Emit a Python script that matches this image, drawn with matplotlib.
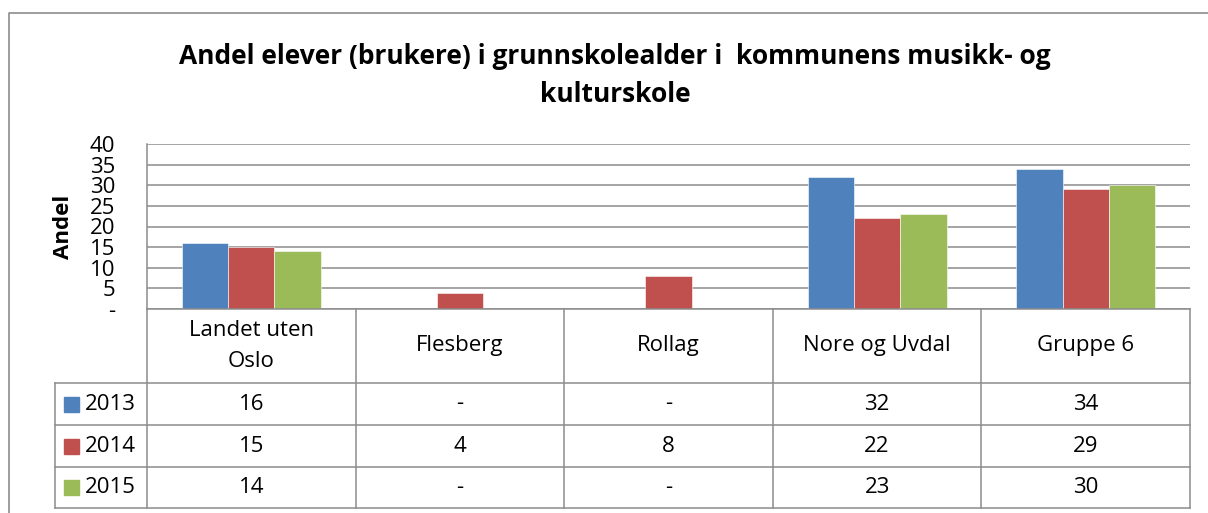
import matplotlib
matplotlib.use("Agg")
import numpy as np
import matplotlib.pyplot as plt
from matplotlib.patches import Rectangle

plt.rcParams["font.family"] = ["Open Sans", "DejaVu Sans"]

categories = ["Landet uten\nOslo", "Flesberg", "Rollag", "Nore og Uvdal", "Gruppe 6"]
years = ["2013", "2014", "2015"]
values_2013 = [16, None, None, 32, 34]
values_2014 = [15, 4, 8, 22, 29]
values_2015 = [14, None, None, 23, 30]
yticks = [0, 5, 10, 15, 20, 25, 30, 35, 40]
yticklabels = ["-", "5", "10", "15", "20", "25", "30", "35", "40"]

colors = ["#4F81BD", "#C0504D", "#9BBB59"]
series = [values_2013, values_2014, values_2015]
grid_col = "#8c8c8c"
fs = 16

W, H = 1208, 513
fig = plt.figure(figsize=(W / 100, H / 100), dpi=100)

# plot area in pixel terms
px_l, px_r, px_t, px_b = 147, 1190, 144, 309
ax = fig.add_axes([px_l / W, 1 - px_b / H, (px_r - px_l) / W, (px_b - px_t) / H])

n = len(categories)
x = np.arange(n)
bw = 0.222
for i, (vals, c) in enumerate(zip(series, colors)):
    xs = [x[j] + (i - 1) * bw for j, v in enumerate(vals) if v is not None]
    hs = [v for v in vals if v is not None]
    ax.bar(xs, hs, width=bw, color=c, edgecolor="white", linewidth=0.4, zorder=3)

ax.set_xlim(-0.5, n - 0.5)
ax.set_ylim(0, 40)
ax.set_yticks(yticks)
ax.set_yticklabels(yticklabels, fontsize=fs)
ax.tick_params(axis="y", length=0, pad=23)
ax.set_xticks([])
ax.yaxis.grid(True, color=grid_col, linewidth=1.1, zorder=0)
for s in ["top", "right", "bottom"]:
    ax.spines[s].set_visible(False)
ax.spines["left"].set_color(grid_col)
ax.spines["left"].set_linewidth(1.1)
ax.set_ylabel("Andel", fontsize=fs, fontweight="bold", labelpad=11)

# overlay in pixel coordinates for the frame, title and data table
ov = fig.add_axes([0, 0, 1, 1], zorder=5)
ov.set_xlim(0, W)
ov.set_ylim(H, 0)
ov.axis("off")
ov.patch.set_alpha(0)

# outer chart frame
ov.plot([8.5, 8.5, W], [H, 12.5, 12.5], color=grid_col, linewidth=1.2)

ov.text(615, 57, "Andel elever (brukere) i grunnskolealder i  kommunens musikk- og",
        ha="center", va="center", fontsize=19, fontweight="bold")
ov.text(615, 94, "kulturskole", ha="center", va="center", fontsize=19, fontweight="bold")

# data table
col_edges = np.linspace(px_l, px_r, n + 1)
row_edges = [309, 383, 425, 467, 508]
lab_l = 55
tl = dict(color=grid_col, linewidth=1.1)
ov.plot([px_l, px_r], [row_edges[0], row_edges[0]], **tl)
for y in row_edges[1:]:
    ov.plot([lab_l, px_r], [y, y], **tl)
for xe in col_edges:
    ov.plot([xe, xe], [row_edges[0], row_edges[-1]], **tl)
ov.plot([lab_l, lab_l], [row_edges[1], row_edges[-1]], **tl)

for j, cat in enumerate(categories):
    cx = (col_edges[j] + col_edges[j + 1]) / 2
    ov.text(cx, (row_edges[0] + row_edges[1]) / 2, cat, ha="center", va="center",
            fontsize=fs, linespacing=1.6)

for i, (yr, vals, c) in enumerate(zip(years, series, colors)):
    cy = (row_edges[i + 1] + row_edges[i + 2]) / 2
    ov.add_patch(Rectangle((64, cy - 7.5), 15, 15, color=c))
    ov.text(85, cy, yr, ha="left", va="center", fontsize=fs)
    for j, v in enumerate(vals):
        cx = (col_edges[j] + col_edges[j + 1]) / 2
        ov.text(cx, cy, "-" if v is None else str(v), ha="center", va="center", fontsize=fs)

fig.savefig("out.png", dpi=100)
